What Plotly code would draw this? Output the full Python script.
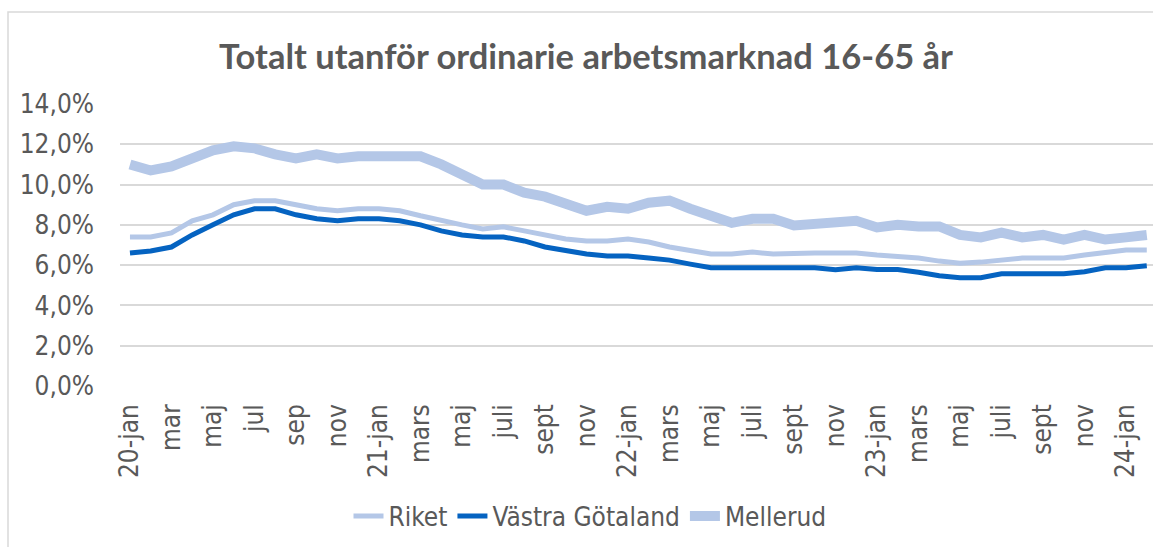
import plotly.graph_objects as go

months_idx = list(range(50))
tick_labels = ["20-jan", "mar", "maj", "jul", "sep", "nov", "21-jan", "mars", "maj", "juli",
               "sept", "nov", "22-jan", "mars", "maj", "juli", "sept", "nov", "23-jan", "mars",
               "maj", "juli", "sept", "nov", "24-jan"]
tick_pos = list(range(0, 50, 2))
y_ticks = [0, 2, 4, 6, 8, 10, 12, 14]
y_tick_labels = ["0,0%", "2,0%", "4,0%", "6,0%", "8,0%", "10,0%", "12,0%", "14,0%"]

riket = [7.4, 7.4, 7.6, 8.2, 8.5, 9.0, 9.2, 9.2, 9.0, 8.8,
         8.7, 8.8, 8.8, 8.7, 8.45, 8.2, 8.0, 7.8, 7.9, 7.7,
         7.5, 7.3, 7.2, 7.2, 7.3, 7.15, 6.9, 6.7, 6.55, 6.55,
         6.65, 6.55, 6.6, 6.6, 6.6, 6.6, 6.5, 6.45, 6.35, 6.2,
         6.1, 6.15, 6.25, 6.35, 6.35, 6.35, 6.5, 6.65, 6.75, 6.75]
vastra_gotaland = [6.6, 6.7, 6.9, 7.5, 8.0, 8.5, 8.8, 8.8, 8.5, 8.3,
                   8.2, 8.3, 8.3, 8.2, 8.0, 7.7, 7.5, 7.4, 7.4, 7.2,
                   6.9, 6.7, 6.55, 6.45, 6.45, 6.35, 6.25, 6.05, 5.87, 5.87,
                   5.87, 5.87, 5.87, 5.87, 5.77, 5.87, 5.78, 5.78, 5.65, 5.47,
                   5.38, 5.38, 5.57, 5.57, 5.57, 5.57, 5.67, 5.87, 5.87, 5.97]
mellerud = [11.0, 10.7, 10.9, 11.3, 11.7, 11.9, 11.8, 11.5, 11.3, 11.5,
            11.3, 11.4, 11.4, 11.5, 11.4, 11.0, 10.55, 10.0, 10.0, 9.6,
            9.4, 9.0, 8.7, 8.9, 8.8, 9.1, 9.2, 8.8, 8.4, 8.1,
            8.3, 8.3, 7.97, 8.08, 8.08, 8.2, 7.87, 8.0, 7.92, 7.92,
            7.5, 7.38, 7.62, 7.38, 7.5, 7.27, 7.5, 7.27, 7.38, 7.5]

LIGHT = "#B4C7E7"
DARK = "#0563C1"
TXT = "#595959"
GRID = "#D9D9D9"
FONT = "DejaVu Sans Condensed, DejaVu Sans"
FS = 26

fig = go.Figure()
fig.add_trace(go.Scatter(x=months_idx, y=riket, name="Riket", mode="lines",
                         line=dict(color=LIGHT, width=5)))
fig.add_trace(go.Scatter(x=months_idx, y=vastra_gotaland, name="Västra Götaland", mode="lines",
                         line=dict(color=DARK, width=5)))
fig.add_trace(go.Scatter(x=months_idx, y=mellerud, name="Mellerud", mode="lines",
                         line=dict(color=LIGHT, width=10)))

W, H = 1153, 547
L, R, T, B = 120, 0, 104, 161
pw, ph = W - L - R, H - T - B

fig.update_layout(
    width=W, height=H,
    margin=dict(l=L, r=R, t=T, b=B),
    paper_bgcolor="white", plot_bgcolor="white",
    font=dict(family=FONT, color=TXT, size=FS),
    title=dict(text="<b>Totalt utanför ordinarie arbetsmarknad 16-65 år</b>",
               x=586 / W, xref="container", xanchor="center",
               y=1 - 57 / H, yref="container", yanchor="middle",
               font=dict(family="Lato", size=34.5, color=TXT)),
    xaxis=dict(range=[-0.48, 49.3], tickmode="array", tickvals=tick_pos, ticktext=tick_labels,
               tickangle=-90, showgrid=False, zeroline=False, showline=False,
               ticks="", ticklabelstandoff=12, tickfont=dict(size=FS, color=TXT)),
    yaxis=dict(range=[0, 14], tickmode="array", tickvals=y_ticks, ticktext=y_tick_labels,
               showgrid=True, gridcolor=GRID, gridwidth=1.5,
               zeroline=False, showline=False, ticks="", ticklabelstandoff=25,
               tickfont=dict(size=FS, color=TXT)),
    legend=dict(orientation="h", x=(590 - L) / pw, xanchor="center",
                y=(386 - 516) / ph, yanchor="middle",
                font=dict(size=FS, color=TXT), itemwidth=30, tracegroupgap=0),
    shapes=[dict(type="rect", xref="paper", yref="paper",
                 x0=(8 - L) / pw, x1=1.05, y0=-0.8, y1=1 + (T - 12) / ph,
                 line=dict(color=GRID, width=1.5), layer="below")],
    showlegend=True,
)

fig.write_html("out.html", config={"displayModeBar": False},
               post_script="document.body.style.margin='0';")
